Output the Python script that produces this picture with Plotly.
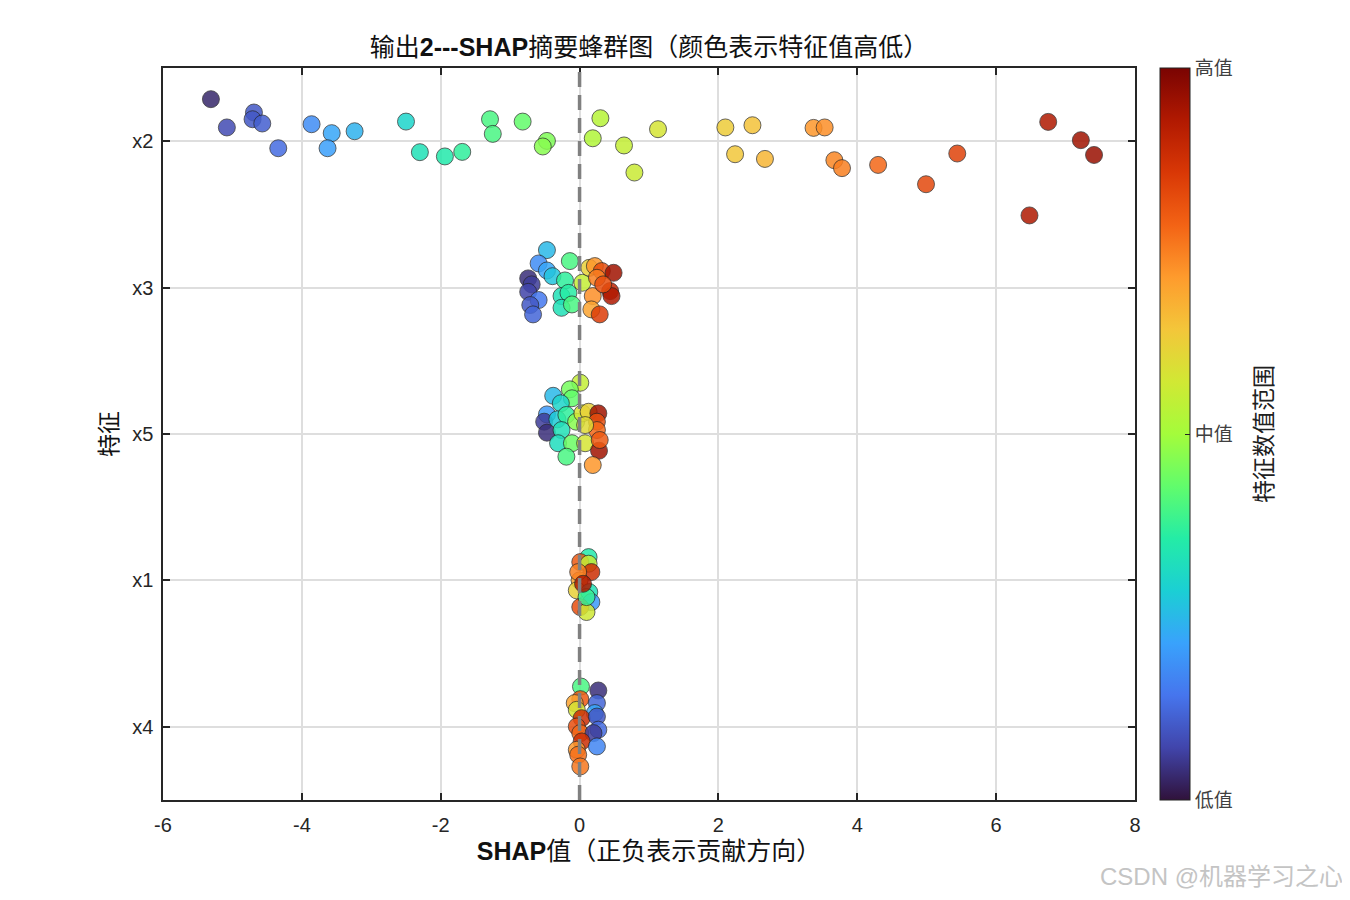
import plotly.graph_objects as go

# Feature row positions (y) and labels
features = ["x4", "x1", "x5", "x3", "x2"]
feature_pos = [1, 2, 3, 4, 5]

# x2 row
x2_shap = [-5.31, -5.08, -4.69, -4.71, -4.57, -4.34, -3.86, -3.57, -3.63, -3.24,
           -2.50, -2.30, -1.94, -1.69, -1.29, -1.25, -0.82, -0.47, -0.53, 0.30,
           0.19, 0.64, 0.79, 1.13, 2.10, 2.49, 2.24, 2.67, 3.37, 3.53,
           3.67, 3.78, 4.30, 4.99, 5.44, 6.48, 6.75, 7.22, 7.41]
x2_y = [5.287, 5.094, 5.196, 5.150, 5.121, 4.952, 5.116, 5.055, 4.952, 5.068,
        5.134, 4.925, 4.896, 4.927, 5.150, 5.050, 5.134, 5.002, 4.964, 5.157,
        5.020, 4.971, 4.786, 5.082, 5.094, 5.109, 4.911, 4.879, 5.091, 5.094,
        4.870, 4.816, 4.838, 4.706, 4.916, 4.493, 5.132, 5.007, 4.906]
x2_val = [0.03, 0.08, 0.10, 0.10, 0.11, 0.13, 0.18, 0.22, 0.21, 0.24,
          0.30, 0.33, 0.35, 0.37, 0.40, 0.40, 0.43, 0.46, 0.47, 0.53,
          0.52, 0.55, 0.56, 0.58, 0.63, 0.65, 0.64, 0.67, 0.72, 0.73,
          0.74, 0.75, 0.78, 0.83, 0.84, 0.93, 0.93, 0.95, 0.96]

# x3 row
x3_shap = [-0.47, -0.59, -0.14, -0.47, -0.39, -0.74, -0.69, -0.21, -0.74, -0.59,
           -0.71, -0.67, -0.26, -0.16, -0.26, -0.11, 0.04, 0.14, 0.22, 0.32,
           0.49, 0.25, 0.19, 0.44, 0.46, 0.17, 0.29, 0.34]
x3_y = [4.256, 4.165, 4.181, 4.117, 4.078, 4.063, 4.022, 4.049, 3.971, 3.915,
        3.881, 3.817, 3.942, 3.964, 3.862, 3.885, 4.033, 4.135, 4.147, 4.113,
        4.101, 4.067, 3.942, 3.976, 3.942, 3.851, 3.817, 4.022]
x3_val = [0.25, 0.18, 0.40, 0.22, 0.27, 0.04, 0.06, 0.37, 0.07, 0.15,
          0.10, 0.12, 0.33, 0.36, 0.33, 0.40, 0.55, 0.62, 0.72, 0.82,
          0.95, 0.75, 0.73, 0.90, 0.93, 0.70, 0.85, 0.82]

# x5 row
x5_shap = [0.01, -0.14, -0.38, -0.11, -0.27, -0.47, -0.51, -0.47, -0.32, -0.19,
           -0.05, 0.04, 0.13, 0.27, 0.25, 0.25, 0.08, -0.26, -0.31, -0.11,
           0.08, -0.19, 0.28, 0.19, 0.29]
x5_y = [3.350, 3.305, 3.261, 3.244, 3.210, 3.134, 3.084, 3.009, 3.100, 3.130,
        3.084, 3.141, 3.152, 3.141, 3.084, 3.027, 3.061, 3.027, 2.937, 2.937,
        2.937, 2.845, 2.886, 2.788, 2.959]
x5_val = [0.55, 0.45, 0.25, 0.43, 0.30, 0.20, 0.06, 0.04, 0.28, 0.37,
          0.47, 0.58, 0.62, 0.95, 0.82, 0.78, 0.60, 0.33, 0.32, 0.44,
          0.58, 0.40, 0.95, 0.72, 0.80]

# x1 row
x1_shap = [0.13, 0.01, 0.13, 0.17, 0.00, -0.04, 0.14, 0.17, 0.01, 0.10, 0.10, -0.02, 0.05]
x1_y = [2.159, 2.125, 2.114, 2.057, 2.000, 1.932, 1.920, 1.852, 1.818, 1.784, 1.886, 2.057, 1.977]
x1_val = [0.35, 0.80, 0.55, 0.88, 0.70, 0.62, 0.33, 0.20, 0.82, 0.57, 0.38, 0.75, 0.93]

# x4 row
x4_shap = [0.02, 0.27, 0.01, -0.07, 0.25, 0.22, -0.04, 0.03, 0.25, -0.04,
           0.27, 0.01, 0.20, 0.03, 0.25, -0.04, -0.02, 0.01]
x4_y = [1.275, 1.248, 1.189, 1.162, 1.162, 1.094, 1.116, 1.059, 1.070, 1.002,
        0.980, 0.957, 0.957, 0.900, 0.866, 0.843, 0.809, 0.729]
x4_val = [0.40, 0.04, 0.80, 0.70, 0.12, 0.22, 0.58, 0.88, 0.10, 0.82,
          0.13, 0.78, 0.06, 0.88, 0.17, 0.72, 0.77, 0.76]

x_ticks = [-6, -4, -2, 0, 2, 4, 6, 8]
cbar_ticks = [0, 0.5, 1]
cbar_labels = ["低值", "中值", "高值"]

FONT = "Liberation Sans, Arial, Noto Sans CJK SC"
CJK = "Noto Sans CJK SC"

fig = go.Figure()

rows = [(x2_shap, x2_y, x2_val), (x3_shap, x3_y, x3_val), (x5_shap, x5_y, x5_val),
        (x1_shap, x1_y, x1_val), (x4_shap, x4_y, x4_val)]

for i, (xs, ys, vs) in enumerate(rows):
    fig.add_trace(go.Scatter(
        x=xs, y=ys, mode="markers", showlegend=False,
        marker=dict(
            size=17, color=vs, colorscale="Turbo", cmin=0, cmax=1,
            opacity=0.85, line=dict(color="#222222", width=0.8),
            showscale=(i == 0),
            colorbar=dict(
                x=1.0257, xanchor="left", xpad=0, y=0.5, yanchor="middle",
                len=1.0, ypad=0,
                thickness=30, outlinecolor="#222222", outlinewidth=1,
                tickvals=cbar_ticks, ticktext=cbar_labels, ticks="inside",
                ticklen=5, tickcolor="#222222",
                tickfont=dict(family=CJK, size=19, color="#404040"),
            ),
        ),
    ))

fig.add_vline(x=0, line=dict(color="#808080", width=3.5, dash="15px,8px"))

fig.update_layout(
    width=1350, height=900,
    margin=dict(l=155, r=223, t=60, b=108),
    paper_bgcolor="white", plot_bgcolor="white",
    title=dict(text="输出<b>2---SHAP</b>摘要蜂群图（颜色表示特征值高低）",
               x=0.4748, xanchor="center", y=0.956, yanchor="middle",
               font=dict(family=FONT, size=25, color="#111111")),
    font=dict(family=FONT, size=19, color="#262626"),
)

fig.update_xaxes(
    range=[-6, 8], tickvals=x_ticks, ticktext=[str(t) for t in x_ticks],
    showgrid=True, gridcolor="#dedede", gridwidth=1.5, zeroline=False,
    showline=True, linecolor="#262626", linewidth=1.5, mirror="allticks",
    ticks="inside", ticklen=7, tickcolor="#262626", tickwidth=1.5,
    ticklabelstandoff=6,
    tickfont=dict(family=FONT, size=20, color="#262626"),
    title=dict(text="<b>SHAP</b>值（正负表示贡献方向）", standoff=8,
               font=dict(family=FONT, size=25, color="#111111")),
)
fig.update_yaxes(
    range=[0.5, 5.5], tickvals=feature_pos, ticktext=features,
    showgrid=True, gridcolor="#dedede", gridwidth=1.5, zeroline=False,
    showline=True, linecolor="#262626", linewidth=1.5, mirror="allticks",
    ticks="inside", ticklen=7, tickcolor="#262626", tickwidth=1.5,
    ticklabelstandoff=4,
    tickfont=dict(family=FONT, size=20, color="#262626"),
    title=dict(text="特征", standoff=8,
               font=dict(family=CJK, size=23, color="#111111")),
)

# Colorbar title placed as rotated annotation
fig.add_annotation(text="特征数值范围", xref="paper", yref="paper",
                   x=(1262 - 163) / 972, y=0.5, xanchor="center", yanchor="middle",
                   textangle=-90, showarrow=False,
                   font=dict(family=CJK, size=23, color="#202020"))

fig.add_annotation(text="CSDN @机器学习之心", xref="paper", yref="paper",
                   x=1.216, y=-0.105, xanchor="right", yanchor="middle",
                   showarrow=False, font=dict(family=FONT, size=24, color="#c4c4c4"))

fig.write_html("out.html")
